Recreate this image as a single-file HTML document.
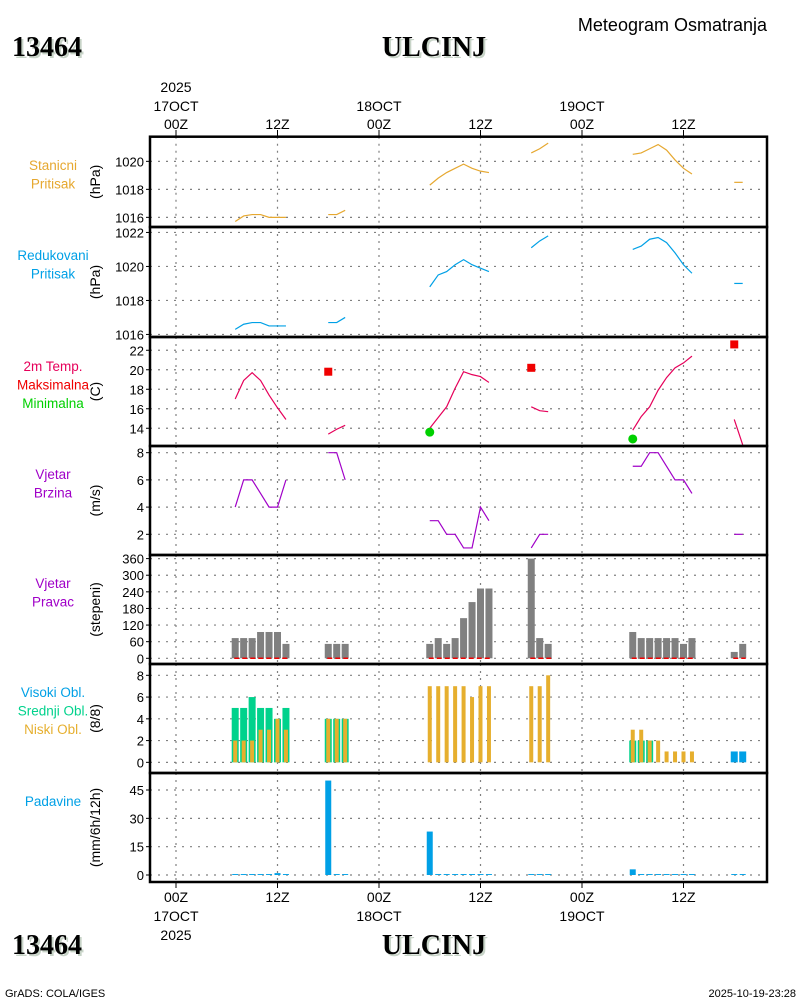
<!DOCTYPE html>
<html><head><meta charset="utf-8">
<style>
body{margin:0;background:#fff;}
svg{display:block;font-family:"Liberation Sans",sans-serif;}
</style></head>
<body>
<svg id="chart" width="800" height="1000" viewBox="0 0 800 1000" xmlns="http://www.w3.org/2000/svg">
<rect width="800" height="1000" fill="#fff"/>
<text x="767" y="31" text-anchor="end" font-size="18" fill="#000">Meteogram Osmatranja</text>
<text x="14" y="58" font-family="Liberation Serif" font-weight="bold" font-size="28" fill="#c8d4c8">13464</text>
<text x="12" y="56" font-family="Liberation Serif" font-weight="bold" font-size="28" fill="#000">13464</text>
<text x="436" y="58" text-anchor="middle" font-family="Liberation Serif" font-weight="bold" font-size="28" fill="#c8d4c8">ULCINJ</text>
<text x="434" y="56" text-anchor="middle" font-family="Liberation Serif" font-weight="bold" font-size="28" fill="#000">ULCINJ</text>
<text x="14" y="956" font-family="Liberation Serif" font-weight="bold" font-size="28" fill="#c8d4c8">13464</text>
<text x="12" y="954" font-family="Liberation Serif" font-weight="bold" font-size="28" fill="#000">13464</text>
<text x="436" y="956" text-anchor="middle" font-family="Liberation Serif" font-weight="bold" font-size="28" fill="#c8d4c8">ULCINJ</text>
<text x="434" y="954" text-anchor="middle" font-family="Liberation Serif" font-weight="bold" font-size="28" fill="#000">ULCINJ</text>
<text x="5" y="997" font-size="11" fill="#000">GrADS: COLA/IGES</text>
<text x="796" y="997" text-anchor="end" font-size="11" fill="#000">2025-10-19-23:28</text>
<g id="plots"></g>
</svg>
<script>
const hours = [7,8,9,10,11,12,13, 18,19,20, 30,31,32,33,34,35,36,37, 42,43,44, 54,55,56,57,58,59,60,61, 66,67];
const stanicni = [1015.7,1016.1,1016.2,1016.2,1016.0,1016.0,1016.0, 1016.2,1016.2,1016.5, 1018.3,1018.8,1019.2,1019.5,1019.8,1019.5,1019.3,1019.2, 1020.6,1020.9,1021.3, 1020.5,1020.6,1020.9,1021.2,1020.8,1020.1,1019.5,1019.1, 1018.5,1018.5];
const redukovani = [1016.3,1016.6,1016.7,1016.7,1016.5,1016.5,1016.5, 1016.7,1016.7,1017.0, 1018.8,1019.5,1019.7,1020.1,1020.4,1020.1,1019.9,1019.7, 1021.1,1021.5,1021.8, 1021.0,1021.2,1021.6,1021.7,1021.4,1020.8,1020.1,1019.6, 1019.0,1019.0];
const temperature = [17.0,18.9,19.7,18.9,17.4,16.1,14.9, 13.4,13.9,14.3, 14.0,15.1,16.2,18.1,19.8,19.5,19.3,18.7, 16.2,15.8,15.7, 13.8,15.2,16.2,17.9,19.2,20.2,20.7,21.4, 14.9,12.3];
const windSpeed = [4,6,6,5,4,4,6, 8,8,6, 3,3,2,2,1,1,4,3, 1,2,2, 7,7,8,8,7,6,6,5, 2,2];
const windDir = [73,73,73,95,95,95,52, 52,52,52, 52,73,52,73,145,203,252,252, 360,73,52, 95,73,73,73,73,73,52,73, 23,52];
const highCloud = [0,0,0,0,0,0,0, 0,0,0, 0,0,0,0,0,0,0,0, 0,0,0, 0,0,0,0,0,0,0,0, 1,1];
const midCloud = [5,5,6,5,5,4,5, 4,4,4, 0,0,0,0,0,0,0,0, 0,0,0, 2,2,2,0,0,0,0,0, 0,0];
const lowCloud = [2,2,2,3,3,4,3, 4,4,4, 7,7,7,7,7,6,7,7, 7,7,8, 3,3,2,2,1,1,1,1, 0,0];
const precip = [0.5,0.5,0.5,0.5,0.5,1,0.5, 50,0.5,0.5, 23,0.5,0.5,0.5,0.5,0.5,0.5,0.5, 0.5,0.5,0.5, 3,0.5,0.5,0.5,0.5,0.5,0.5,0.5, 0.5,0.5];
const maxHours = [18,42,66];
const maxTemp = [19.8,20.2,22.6];
const minHours = [30,54];
const minTemp = [13.6,12.9];
const gridHours = [0,12,24,36,48,60];
const hourLabels = ["00Z","12Z","00Z","12Z","00Z","12Z"];
const dayLabels = ["17OCT","","18OCT","","19OCT",""];

const NS="http://www.w3.org/2000/svg";
const root=document.getElementById('plots');
const X0=150,X1=767;
function xh(h){return 176+h*8.4583;}
function mk(tag,attrs,parent){const e=document.createElementNS(NS,tag);for(const k in attrs)e.setAttribute(k,attrs[k]);(parent||root).appendChild(e);return e;}
function txt(s,x,y,attrs,parent){const e=mk('text',Object.assign({x:x,y:y},attrs),parent);e.textContent=s;return e;}

const panels=[
 {name:'station-pressure',top:136.7,bot:227,min:1015.31,max:1021.76,ticks:[1016,1018,1020],unit:'(hPa)',ly:170,labels:[['Stanicni','#e6a830'],['Pritisak','#e6a830']]},
 {name:'reduced-pressure',top:227,bot:337,min:1015.85,max:1022.32,ticks:[1016,1018,1020,1022],unit:'(hPa)',ly:260,labels:[['Redukovani','#00a0e6'],['Pritisak','#00a0e6']]},
 {name:'temperature',top:337,bot:446,min:12.18,max:23.36,ticks:[14,16,18,20,22],unit:'(C)',ly:371,labels:[['2m Temp.','#e6005a'],['Maksimalna','#f00000'],['Minimalna','#00d000']]},
 {name:'wind-speed',top:446,bot:555,min:0.48,max:8.49,ticks:[2,4,6,8],unit:'(m/s)',ly:479,labels:[['Vjetar','#a000c8'],['Brzina','#a000c8']]},
 {name:'wind-direction',top:555,bot:664,min:-20.6,max:373,ticks:[0,60,120,180,240,300,360],unit:'(stepeni)',ly:588,labels:[['Vjetar','#a000c8'],['Pravac','#a000c8']]},
 {name:'cloud-cover',top:664,bot:773,min:-0.98,max:9.04,ticks:[0,2,4,6,8],unit:'(8/8)',ly:697,labels:[['Visoki Obl.','#00a0e6'],['Srednji Obl.','#00d28c'],['Niski Obl.','#e6af2e']]},
 {name:'precipitation',top:773,bot:882,min:-3.7,max:54,ticks:[0,15,30,45],unit:'(mm/6h/12h)',ly:806,labels:[['Padavine','#00a0e6']]}
];
panels.forEach(p=>{p.y=v=>p.bot-(v-p.min)/(p.max-p.min)*(p.bot-p.top);});

panels.forEach((p,pi)=>{
 const g=mk('g',{});
 
 
 gridHours.forEach(h=>{const l=mk('line',{x1:xh(h),x2:xh(h),y1:p.top,y2:p.bot,stroke:'#808080','stroke-width':1.2,'stroke-dasharray':'2,5'},g);
  
  });
 p.ticks.forEach(t=>{const y=p.y(t);
  const l=mk('line',{x1:X0,x2:X1,y1:y,y2:y,stroke:'#808080','stroke-width':1.2,'stroke-dasharray':'2,6'},g);
  
  
  mk('line',{x1:X0-4,x2:X0,y1:y,y2:y,stroke:'#000','stroke-width':1},g);
  const tl=txt(String(t),X0-6,y+5,{'text-anchor':'end','font-size':13,fill:'#000'},g);
  
  });
 const cy=(p.top+p.bot)/2;
 const ut=txt(p.unit,0,0,{'text-anchor':'middle','font-size':14,fill:'#000',transform:`translate(100,${cy}) rotate(-90)`},g);
 
 
 p.labels.forEach((lb,i)=>{const t=txt(lb[0],53,p.ly+i*18.5,{'text-anchor':'middle','font-size':13.5,fill:lb[1]},g);
  
  });
});

function seriesLine(p,vals,color,name){
 let seg=[];const segs=[];
 hours.forEach((h,i)=>{if(i>0&&h-hours[i-1]>1){segs.push(seg);seg=[];}seg.push([xh(h),p.y(vals[i])]);});
 segs.push(seg);
 segs.forEach(s=>{if(s.length<2)return;
  const e=mk('polyline',{points:s.map(q=>q.join(',')).join(' '),fill:'none',stroke:color,'stroke-width':1.2});
  
  });
}
seriesLine(panels[0],stanicni,'#e6a830','station-pressure-line');
seriesLine(panels[1],redukovani,'#00a0e6','reduced-pressure-line');
seriesLine(panels[2],temperature,'#e6005a','temperature-line');
seriesLine(panels[3],windSpeed,'#a000c8','wind-speed-line');

maxHours.forEach((h,i)=>{const y=panels[2].y(maxTemp[i]);
 const r=mk('rect',{x:xh(h)-4,y:y-4,width:8,height:8,fill:'#f00000'});
 
 });
minHours.forEach((h,i)=>{const y=panels[2].y(minTemp[i]);
 const c=mk('circle',{cx:xh(h),cy:y,r:4.5,fill:'#00d000'});
 
 });

function bars(p,vals,color,w,name){
 hours.forEach((h,i)=>{if(!vals[i])return;const y0=p.y(0),y=p.y(vals[i]);
  const r=mk('rect',{x:xh(h)-w/2,y:y,width:w,height:y0-y,fill:color});
  
  });
}
bars(panels[4],windDir,'#808080',7,'wind-direction-bar');
(function(){let s=hours[0];
 hours.forEach((h,i)=>{const last=i===hours.length-1||hours[i+1]-h>1;
  if(last){const y=panels[4].y(0);
   const l=mk('line',{x1:xh(s)-1,x2:xh(h)+3,y1:y,y2:y,stroke:'#f00000','stroke-width':1.5,'stroke-dasharray':'5,3'});
   
   
   if(i<hours.length-1)s=hours[i+1];}});})();
bars(panels[5],highCloud,'#00a0e6',7,'high-cloud-bar');
bars(panels[5],midCloud,'#00d28c',7,'mid-cloud-bar');
bars(panels[5],lowCloud,'#e6af2e',4,'low-cloud-bar');
bars(panels[6],precip,'#00a0e6',6,'precipitation-bar');

panels.forEach(p=>{const r=mk('rect',{x:X0,y:p.top,width:X1-X0,height:p.bot-p.top,fill:'none',stroke:'#000','stroke-width':2.5});
 
 });

gridHours.forEach((h,i)=>{const x=xh(h);
 mk('line',{x1:x,x2:x,y1:130,y2:136,stroke:'#000','stroke-width':1});
 mk('line',{x1:x,x2:x,y1:882,y2:888,stroke:'#000','stroke-width':1});
 const a=txt(hourLabels[i],x,129,{'text-anchor':'middle','font-size':14,fill:'#000'});
 
 
 const b=txt(hourLabels[i],x,902,{'text-anchor':'middle','font-size':14,fill:'#000'});
 
 
 if(dayLabels[i]){
  const c=txt(dayLabels[i],x,111,{'text-anchor':'middle','font-size':14,fill:'#000'});
  
  
  const d=txt(dayLabels[i],x,921,{'text-anchor':'middle','font-size':14,fill:'#000'});
  
  }
});
const y1=txt('2025',xh(0),92,{'text-anchor':'middle','font-size':14,fill:'#000'});


const y2=txt('2025',xh(0),940,{'text-anchor':'middle','font-size':14,fill:'#000'});


</script>
</body></html>
